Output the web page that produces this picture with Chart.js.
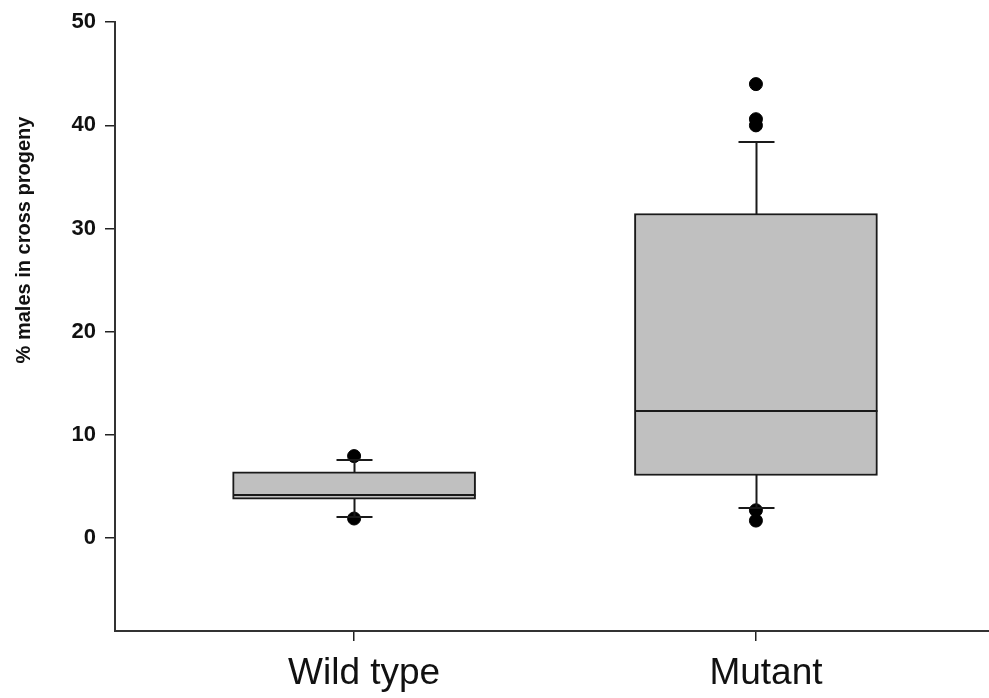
<!DOCTYPE html>
<html>
<head>
<meta charset="utf-8">
<script src="https://cdn.jsdelivr.net/npm/chart.js@4"></script>
<style>
	html, body { margin: 0; padding: 0; background: #fff; overflow: hidden; }
	#wrap { width: 989px; height: 698px; }
</style>
</head>
<body>
<div id="wrap"><canvas id="myChart-males"></canvas></div>
<script>
	// groups and their box statistics (% males)
	let groups = ["Wild type", "Mutant"];
	let groupPos = [1, 2];
	let lowerQuartile = [3.78, 6.07];
	let medians = [4.15, 12.35];
	let upperQuartile = [6.42, 31.46];
	let whiskerLow = [2.0, 2.94];
	let whiskerHigh = [7.6, 38.35];
	// outliers per group
	let outliersWild = [7.95, 1.9];
	let outliersMutant = [44.0, 40.6, 40.0, 2.7, 1.7];
	let yTicks = [0, 10, 20, 30, 40, 50];

	let boxData = groupPos.map((x, i) => ({ x: x, y: [lowerQuartile[i], upperQuartile[i]] }));
	let outlierData = [
		...outliersWild.map((v) => ({ x: groupPos[0], y: v })),
		...outliersMutant.map((v) => ({ x: groupPos[1], y: v })),
	];

	// medians, whiskers and caps on top of the boxes
	let whiskerPlugin = {
		id: "whiskers",
		afterDatasetsDraw(chart) {
			let ctx = chart.ctx;
			let xs = chart.scales.x;
			let ys = chart.scales.y;
			ctx.save();
			ctx.strokeStyle = "#1a1a1a";
			ctx.lineWidth = 2;
			groupPos.forEach((g, i) => {
				let cx = Math.round(xs.getPixelForValue(g)) + 0.5;
				let half = 121;
				let capHalf = 18;
				let py = (v) => Math.round(ys.getPixelForValue(v));
				ctx.beginPath();
				// median
				ctx.moveTo(cx - half, py(medians[i]));
				ctx.lineTo(cx + half, py(medians[i]));
				// upper whisker + cap
				ctx.moveTo(cx, py(upperQuartile[i]));
				ctx.lineTo(cx, py(whiskerHigh[i]));
				ctx.moveTo(cx - capHalf, py(whiskerHigh[i]));
				ctx.lineTo(cx + capHalf, py(whiskerHigh[i]));
				// lower whisker + cap
				ctx.moveTo(cx, py(lowerQuartile[i]));
				ctx.lineTo(cx, py(whiskerLow[i]));
				ctx.moveTo(cx - capHalf, py(whiskerLow[i]));
				ctx.lineTo(cx + capHalf, py(whiskerLow[i]));
				ctx.stroke();
			});
			ctx.restore();
		},
		afterDraw(chart) {
			// y axis title sits above the middle of the axis
			let ctx = chart.ctx;
			ctx.save();
			ctx.translate(24, 240);
			ctx.rotate(-Math.PI / 2);
			ctx.font = "bold 20px 'Liberation Sans', Arial, sans-serif";
			ctx.fillStyle = "#111";
			ctx.textAlign = "center";
			ctx.textBaseline = "middle";
			ctx.fillText("% males in cross progeny", 0, 0);
			ctx.restore();
		},
	};

	let chartMales = document.getElementById("myChart-males").getContext("2d");
	let MalesChart = new Chart(chartMales, {
		type: "bar",
		data: {
			datasets: [
				{
					label: "Box",
					data: boxData,
					backgroundColor: "#c0c0c0",
					borderColor: "#1a1a1a",
					borderWidth: 2,
					borderSkipped: false,
					barThickness: 243,
					order: 2,
				},
				{
					type: "scatter",
					label: "Outliers",
					data: outlierData,
					backgroundColor: "#000",
					borderColor: "#000",
					pointRadius: 6.5,
					order: 1,
				},
			],
		},
		options: {
			responsive: true,
			maintainAspectRatio: false,
			animation: false,
			layout: { autoPadding: false, padding: { top: 22, right: 0, left: 0, bottom: 0 } },
			plugins: {
				legend: { display: false },
				tooltip: { enabled: false },
			},
			scales: {
				x: {
					type: "linear",
					offset: false,
					min: 0.405,
					max: 2.58,
					afterBuildTicks: (scale) => {
						scale.ticks = groupPos.map((v) => ({ value: v }));
					},
					afterFit: (scale) => {
						scale.height = 67;
						scale.paddingLeft = 0;
						scale.paddingRight = 0;
					},
					ticks: {
						callback: (v) => groups[groupPos.indexOf(v)],
						font: { family: "'Liberation Sans', Arial, sans-serif", size: 37 },
						color: "#111",
						padding: 11,
						labelOffset: 10,
						maxRotation: 0,
					},
					grid: {
						offset: false,
						drawOnChartArea: false,
						drawTicks: true,
						tickLength: 10,
						color: "#222",
						lineWidth: 1.5,
					},
					border: { display: true, color: "#333", width: 2 },
				},
				y: {
					min: -9,
					max: 50,
					afterBuildTicks: (scale) => {
						scale.ticks = yTicks.map((v) => ({ value: v }));
					},
					afterFit: (scale) => {
						scale.width = 115;
					},
					ticks: {
						font: { family: "'Liberation Sans', Arial, sans-serif", size: 22, weight: "bold" },
						color: "#111",
						padding: 9,
					},
					grid: {
						drawOnChartArea: false,
						drawTicks: true,
						tickLength: 10,
						color: "#222",
						lineWidth: 1.5,
					},
					border: { display: true, color: "#333", width: 2 },
				},
			},
		},
		plugins: [whiskerPlugin],
	});
</script>
</body>
</html>
